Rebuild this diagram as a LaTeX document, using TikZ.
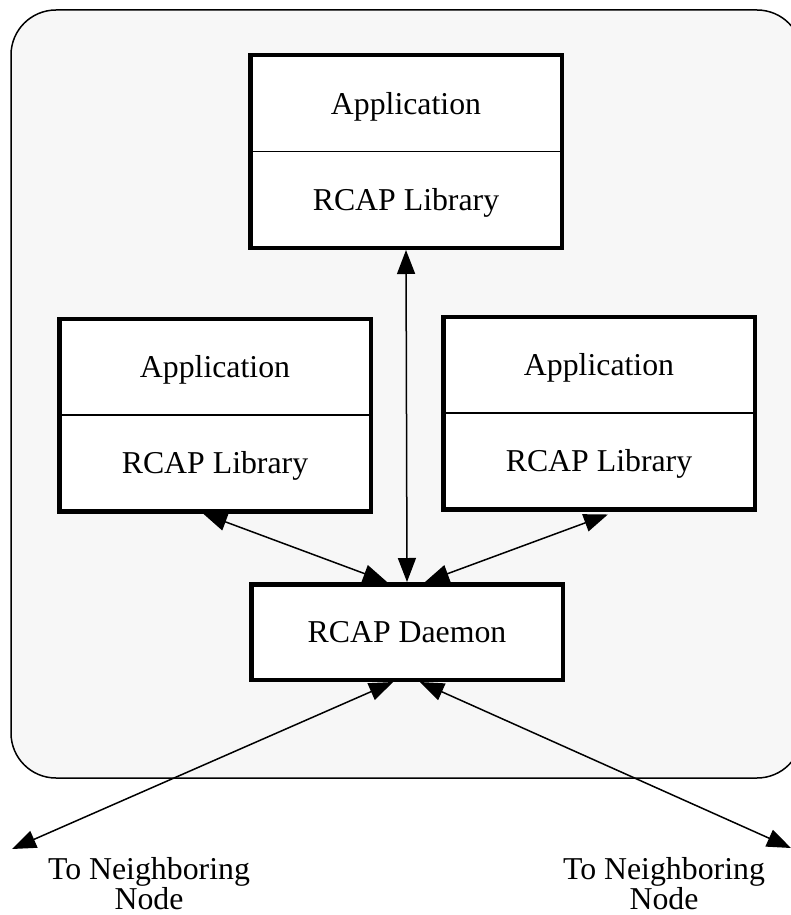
\documentclass[tikz,border=0pt]{standalone}
\usepackage{fontspec}
\setmainfont{Liberation Serif}
\usetikzlibrary{arrows.meta,calc}
\definecolor{bggray}{HTML}{F7F7F7}
\tikzset{
  layerbox/.style={draw=black, line width=4.5pt, fill=white, minimum width=311.5pt, minimum height=192.5pt, inner sep=0pt},
  daemonbox/.style={draw=black, line width=4.5pt, fill=white, minimum width=311.5pt, minimum height=95.5pt, inner sep=0pt, font=\fontsize{31.8}{34}\selectfont},
  lbl/.style={inner sep=0pt, anchor=base, font=\fontsize{31.8}{34}\selectfont},
  divider/.style={draw=black, line width=1.5pt},
  link/.style={draw=black, line width=1.5pt, {Triangle[length=24pt,width=18pt]}-{Triangle[length=24pt,width=18pt]}},
  outlbl/.style={inner sep=0pt, align=center, font=\fontsize{31.8}{30}\selectfont}
}
\begin{document}
\begin{tikzpicture}[x=1pt,y=-1pt]
\useasboundingbox (0,0) rectangle (791,915);
\clip (0,0) rectangle (791,915);
% outer host
\path[draw=black, line width=1.5pt, fill=bggray, rounded corners=45pt] (11,10) rectangle (802,778);
% boxes
\node[layerbox] (top) at (406,151.5) {};
\node[layerbox] (lb) at (215,415) {};
\node[layerbox] (rb) at (599,413) {};
\node[daemonbox] (dm) at (407,632) {RCAP Daemon};
% dividers and texts
\foreach \b in {top,lb,rb}{
  \draw[divider] (\b.west) -- (\b.east);
  \node[lbl] (\b app) at ($($(\b.north)!0.5!(\b.center)$)+(0,12)$) {Application};
  \node[lbl] (\b lib) at ($($(\b.south)!0.5!(\b.center)$)+(0,9.5)$) {RCAP Library};
}
% connectors
\draw[link] (top.south) -- (dm.north);
\draw[link] ($(lb.south west)!0.462!(lb.south east)$) -- ($(dm.north west)!0.437!(dm.north east)$);
\draw[link] ($(rb.south west)!0.528!(rb.south east)+(0,3)$) -- ($(dm.north west)!0.557!(dm.north east)$);
\coordinate (nl) at (12,849);
\coordinate (nr) at (791,848);
\draw[link] (nl) -- ($(dm.south west)!0.456!(dm.south east)$);
\draw[link] (nr) -- ($(dm.south west)!0.541!(dm.south east)$);
\node[outlbl] (tl) at (149,884) {To Neighboring\\Node};
\node[outlbl] (tr) at (664,884) {To Neighboring\\Node};
\end{tikzpicture}
\end{document}
